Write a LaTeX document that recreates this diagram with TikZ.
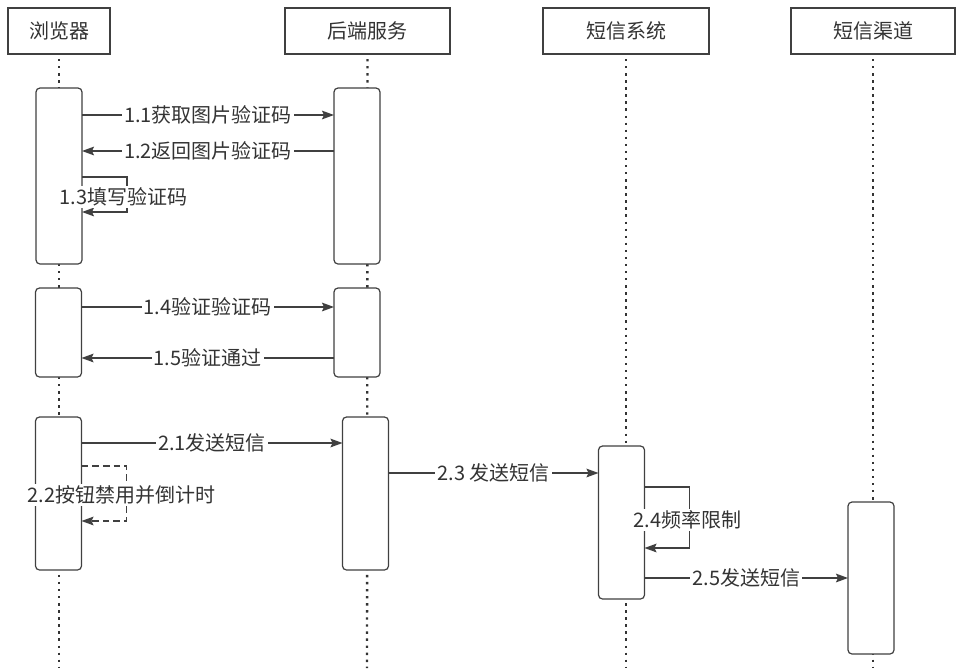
\documentclass[tikz,border=0pt]{standalone}
\usepackage{fontspec}
\setmainfont{Noto Sans CJK SC}
\usetikzlibrary{arrows.meta}
\definecolor{ln}{HTML}{404040}
\definecolor{tx}{HTML}{333333}
\begin{document}
\begin{tikzpicture}[x=0.75pt,y=-0.75pt,
  head/.style={draw=ln, line width=2.1pt, fill=white, text=tx, minimum height=34.5pt, inner sep=0pt, outer sep=0pt, font=\fontsize{15}{17}\selectfont},
  act/.style={draw=ln, line width=0.9pt, fill=white, rounded corners=3pt, minimum width=34.5pt, inner sep=0pt, outer sep=0pt},
  life/.style={draw=ln!80!black, line width=1.8pt, line cap=butt, dash pattern=on 1.8pt off 3.5pt},
  msg/.style={draw=ln, line width=0.9pt, -{Stealth[length=9pt,width=6.5pt,inset=1.5pt]}},
  lbl/.style={fill=white, text=tx, inner sep=1.5pt, font=\fontsize{15}{17}\selectfont}]
\useasboundingbox (0,0) rectangle (964,668);
% headers
\node[head, minimum width=76.5pt] (h1) at (59,31) {浏览器};
\node[head, minimum width=123.75pt] (h2) at (367.5,31) {后端服务};
\node[head, minimum width=124.5pt] (h3) at (626,31) {短信系统};
\node[head, minimum width=123pt] (h4) at (873,31) {短信渠道};
% lifelines
\coordinate (e1) at (59,668);
\coordinate (e2) at (367,668);
\coordinate (e3) at (626,668);
\coordinate (e4) at (873,668);
\draw[life] (h1.south) ++(0,5) -- (e1);
\draw[life] (h2.south) ++(0,5) -- (e2);
\draw[life] (h3.south) ++(0,5) -- (e3);
\draw[life] (h4.south) ++(0,5) -- (e4);
% activation boxes
\node[act, minimum height=132pt] (a1) at (59,176) {};
\node[act, minimum height=132pt] (b1) at (357,176) {};
\node[act, minimum height=66.75pt] (a2) at (58.5,332.5) {};
\node[act, minimum height=66.75pt] (b2) at (357,332.5) {};
\node[act, minimum height=114.75pt] (a3) at (58.5,493.5) {};
\node[act, minimum height=114.75pt] (b3) at (365.5,493.5) {};
\node[act, minimum height=114.75pt] (s1) at (621.5,522.5) {};
\node[act, minimum height=114pt] (c1) at (871,578) {};
% messages
\draw[msg] (a1.east |- 0,115) -- (b1.west |- 0,115) node[lbl,midway] {1.1获取图片验证码};
\draw[msg] (b1.west |- 0,151) -- (a1.east |- 0,151) node[lbl,midway] {1.2返回图片验证码};
\draw[msg] (a1.east |- 0,177) -- ++(45,0) -- ++(0,35) -- (a1.east |- 0,212);
\node[lbl] (l13) at (123.5,197) {1.3填写验证码};
\draw[msg] (a2.east |- 0,307) -- (b2.west |- 0,307) node[lbl,midway] {1.4验证验证码};
\draw[msg] (b2.west |- 0,358) -- (a2.east |- 0,358) node[lbl,midway] {1.5验证通过};
\draw[msg] (a3.east |- 0,443) -- (b3.west |- 0,443) node[lbl,midway] {2.1发送短信};
\draw[msg, dash pattern=on 5pt off 3pt] (a3.east |- 0,466) -- ++(45,0) -- ++(0,55) -- (a3.east |- 0,521);
\node[lbl] (l22) at (121.5,495) {2.2按钮禁用并倒计时};
\draw[msg] (b3.east |- 0,473) -- (s1.west |- 0,473) node[lbl,midway] {2.3 发送短信};
\draw[msg] (s1.east |- 0,487) -- ++(45,0) -- ++(0,61) -- (s1.east |- 0,548);
\node[lbl] (l24) at (687.5,520) {2.4频率限制};
\draw[msg] (s1.east |- 0,578) -- (c1.west |- 0,578) node[lbl,midway] {2.5发送短信};
\end{tikzpicture}
\end{document}
